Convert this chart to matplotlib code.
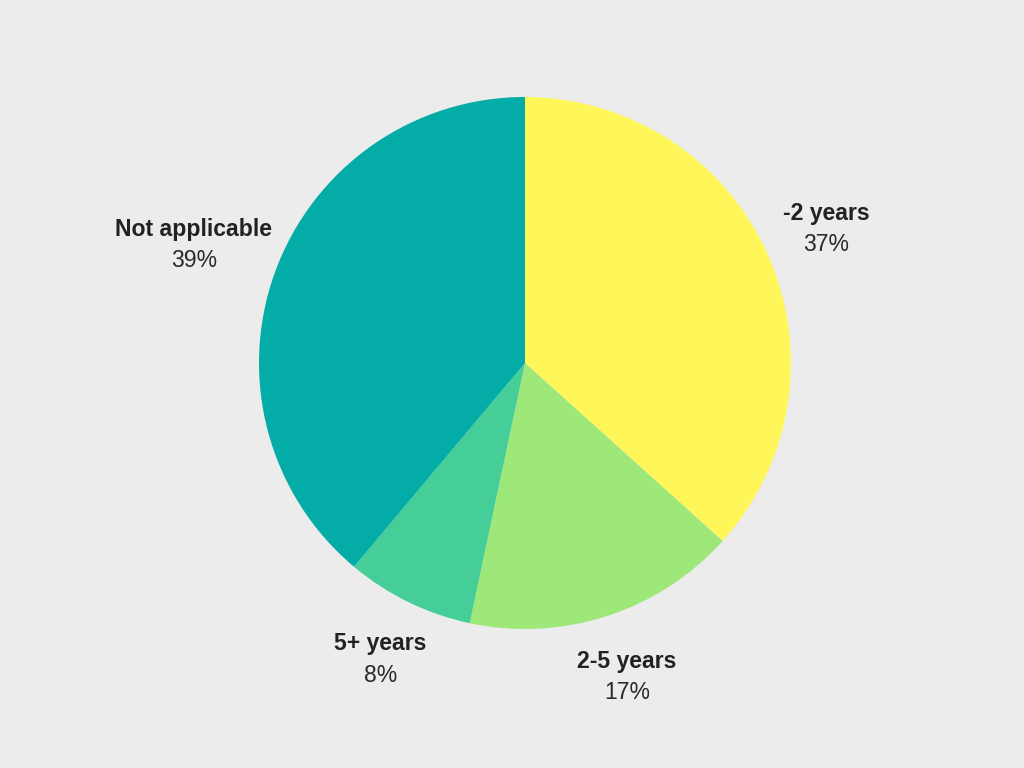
import matplotlib.pyplot as plt
import numpy as np

plt.rcParams["font.family"] = ["Liberation Sans", "DejaVu Sans"]

categories = ["-2 years", "2-5 years", "5+ years", "Not applicable"]
counts = [33, 15, 7, 35]
colors = ["#fff759", "#9de878", "#45ce98", "#03aca7"]

shares = np.array(counts) / sum(counts)
pct_labels = [f"{round(s * 100):.0f}%" for s in shares]

fig = plt.figure(figsize=(10.24, 7.68), dpi=100, facecolor="#ececec")
R = 266
cx, cy = 525, 363
ax = fig.add_axes([(cx - R) / 1024, (768 - cy - R) / 768, 2 * R / 1024, 2 * R / 768])
ax.set_facecolor("none")

wedges, _ = ax.pie(counts, colors=colors, startangle=90, counterclock=False,
                   radius=1.0, wedgeprops={"linewidth": 0})
ax.set_xlim(-1, 1)
ax.set_ylim(-1, 1)
ax.axis("off")

dist = 1.24
for w, cat, pct in zip(wedges, categories, pct_labels):
    mid = np.deg2rad((w.theta1 + w.theta2) / 2)
    x, y = dist * np.cos(mid), dist * np.sin(mid)
    if cat == "Not applicable":
        x -= 0.08
        y += 0.02
    ax.annotate(cat, (x, y), xytext=(0, 11.2), textcoords="offset points",
                ha="center", va="center", fontsize=16.6, fontweight="bold",
                color="#222222", annotation_clip=False)
    ax.annotate(pct, (x, y), xytext=(0, -11.5), textcoords="offset points",
                ha="center", va="center", fontsize=16.6, color="#2a2a2a",
                annotation_clip=False)

fig.savefig("out.png", dpi=100, facecolor=fig.get_facecolor())
